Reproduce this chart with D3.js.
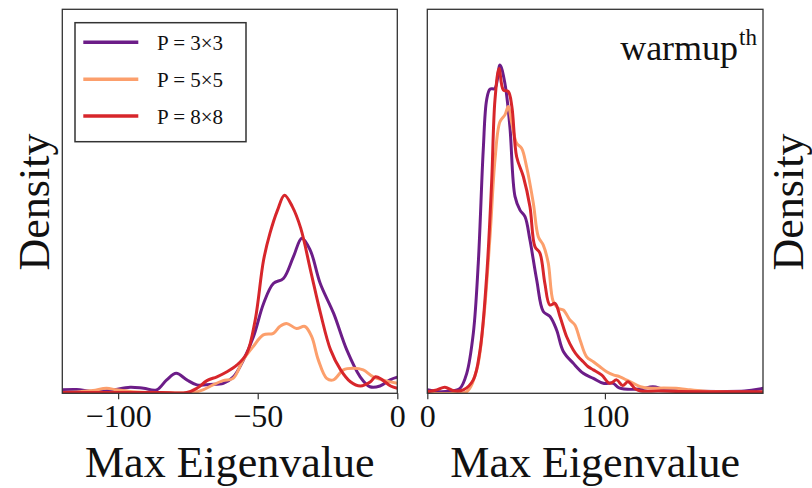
<!DOCTYPE html>
<html>
<head>
<meta charset="utf-8">
<script src="https://cdn.jsdelivr.net/npm/d3@7/dist/d3.min.js"></script>
<style>
  html, body { margin: 0; padding: 0; background: #fff; }
  svg { display: block; }
  text { font-family: "Liberation Serif", "DejaVu Serif", serif; fill: #111; }
</style>
</head>
<body>
<svg id="chart" width="812" height="488"></svg>
<script>
// Series names and colours
const seriesNames = ["P = 3×3", "P = 5×5", "P = 8×8"];
const seriesColors = ["#6c1d88", "#fc9f6c", "#d7262b"];

// Left panel: KDE of max eigenvalue (negative side), relative density
const leftX3 = [-120, -114.9, -108.9, -102.9, -95.7, -90.9, -86.2, -82.6, -79.2, -75.4, -71.8, -67.1, -62.3, -58.7, -55.1, -51.5, -47.9, -44.4, -40.8, -37.2, -34.2, -31.2, -27.6, -22.8, -18.1, -13.3, -9.8, -6.2, -2.6, 0];
const leftY3 = [0.009, 0.010, 0.004, 0.007, 0.016, 0.013, 0.009, 0.035, 0.052, 0.035, 0.022, 0.023, 0.026, 0.043, 0.087, 0.148, 0.234, 0.286, 0.299, 0.356, 0.404, 0.373, 0.286, 0.208, 0.113, 0.043, 0.017, 0.019, 0.035, 0.042];

const leftX5 = [-120, -113.8, -109.0, -104.2, -100.6, -94.6, -85.1, -73.1, -69.6, -66.0, -62.4, -58.8, -55.2, -51.6, -48.0, -44.4, -42.1, -39.7, -36.1, -33.1, -30.7, -28.3, -25.3, -22.9, -19.3, -15.8, -12.2, -8.6, 0];
const leftY5 = [0.002, 0.004, 0.007, 0.013, 0.009, 0.004, 0.002, 0.002, 0.009, 0.022, 0.033, 0.039, 0.087, 0.122, 0.152, 0.156, 0.174, 0.182, 0.169, 0.174, 0.148, 0.087, 0.039, 0.035, 0.061, 0.065, 0.061, 0.043, 0.026];

const leftX8 = [-120, -100, -85, -75.4, -71.8, -68.2, -64.6, -61.0, -57.4, -53.9, -50.9, -47.9, -45.6, -42.9, -40.4, -37.6, -34.6, -31.1, -27.5, -23.9, -20.3, -16.8, -13.2, -9.6, -7.8, -5.4, -2.4, 0];
const leftY8 = [0.002, 0.002, 0.002, 0.002, 0.013, 0.033, 0.043, 0.056, 0.074, 0.104, 0.191, 0.347, 0.417, 0.477, 0.516, 0.486, 0.430, 0.321, 0.208, 0.113, 0.061, 0.030, 0.019, 0.030, 0.043, 0.035, 0.019, 0.013];

// Right panel: KDE of max eigenvalue (positive side), relative density
const rightX3 = [0, 7.1, 12.8, 18.4, 22.2, 25.9, 28.7, 31.5, 33.4, 35.3, 38.1, 40.9, 43.7, 46.5, 49.4, 52.2, 55.0, 57.8, 61.6, 65.3, 69.1, 72.8, 76.6, 82.2, 87.8, 93.5, 99.1, 104.7, 108, 119.8, 127, 134, 148, 164.6, 178.7, 187, 189];
const rightY3 = [0.009, 0.004, 0.006, 0.013, 0.052, 0.156, 0.339, 0.634, 0.764, 0.792, 0.794, 0.855, 0.807, 0.694, 0.512, 0.477, 0.460, 0.399, 0.295, 0.213, 0.200, 0.165, 0.109, 0.078, 0.052, 0.039, 0.026, 0.026, 0.014, 0.011, 0.017, 0.010, 0.006, 0.005, 0.006, 0.011, 0.013];

const rightX5 = [0, 14.6, 22.2, 27.8, 31.5, 35.3, 38.1, 40.9, 43.7, 45.6, 47.6, 50.3, 53.1, 55.9, 59.7, 62.5, 65.3, 68.1, 70.9, 73.8, 76.6, 80.3, 83.1, 86.0, 89.7, 93.5, 97.2, 101.0, 104.7, 108.5, 112, 116, 120, 126, 133, 140, 146, 155, 165, 178, 189];
const rightY5 = [0.0, 0.0, 0.004, 0.061, 0.182, 0.408, 0.608, 0.707, 0.725, 0.747, 0.703, 0.651, 0.638, 0.590, 0.495, 0.408, 0.386, 0.339, 0.239, 0.221, 0.217, 0.191, 0.178, 0.139, 0.095, 0.082, 0.069, 0.056, 0.048, 0.043, 0.035, 0.026, 0.017, 0.013, 0.014, 0.013, 0.010, 0.006, 0.004, 0.003, 0.002];

const rightX8 = [0, 5.3, 9.9, 14.6, 20.3, 25.9, 29.7, 33.4, 36.2, 38.1, 40.4, 42.8, 45.6, 47.6, 50.3, 54.1, 57.8, 60.6, 63.4, 66.2, 69.0, 71.9, 74.7, 78.4, 82.2, 85.0, 87.8, 90.6, 93.5, 98.1, 102.8, 106.6, 110, 113, 117, 120, 130, 140, 160, 189];
const rightY8 = [0.004, 0.009, 0.016, 0.007, 0.009, 0.035, 0.113, 0.304, 0.547, 0.764, 0.846, 0.790, 0.786, 0.747, 0.616, 0.564, 0.486, 0.382, 0.365, 0.286, 0.230, 0.234, 0.200, 0.148, 0.113, 0.095, 0.082, 0.069, 0.061, 0.048, 0.026, 0.035, 0.020, 0.030, 0.012, 0.006, 0.006, 0.005, 0.004, 0.004];

// Axis ticks
const leftTicks = [-100, -50, 0];
const rightTicks = [0, 100];

const svg = d3.select("#chart");
const plotTop = 9.3, plotBottom = 393.3;

function zip(xs, ys) { return xs.map((x, i) => [x, ys[i]]); }

function panel(id, x0, x1, domain, ticks, series) {
  const x = d3.scaleLinear().domain(domain).range([x0, x1]);
  const y = d3.scaleLinear().domain([0, 1]).range([plotBottom, plotTop]);
  const g = svg.append("g");

  g.append("clipPath").attr("id", id)
    .append("rect").attr("x", x0).attr("y", plotTop).attr("width", x1 - x0).attr("height", plotBottom - plotTop);

  const line = d3.line()
    .x(d => x(d[0])).y(d => y(d[1]))
    .curve(d3.curveCatmullRom.alpha(0.5));

  const lines = g.append("g").attr("clip-path", `url(#${id})`);
  series.forEach((s, i) => {
    lines.append("path")
      .attr("d", line(s))
      .attr("fill", "none")
      .attr("stroke", seriesColors[i])
      .attr("stroke-width", 3)
      .attr("stroke-linejoin", "round")
      .attr("stroke-linecap", "round");
  });

  // frame
  g.append("rect")
    .attr("x", x0).attr("y", plotTop).attr("width", x1 - x0).attr("height", plotBottom - plotTop)
    .attr("fill", "none").attr("stroke", "#333").attr("stroke-width", 1.3);

  const axis = d3.axisBottom(x).tickValues(ticks).tickSize(6).tickPadding(5)
    .tickFormat(d => d < 0 ? "\u2212" + Math.abs(d) : String(d));
  const ag = g.append("g").attr("transform", `translate(0,${plotBottom})`).call(axis);
  ag.select(".domain").remove();
  ag.selectAll(".tick line").attr("stroke", "#333").attr("stroke-width", 1.2);
  ag.selectAll(".tick text")
    .attr("font-family", "Liberation Serif, serif")
    .attr("font-size", 32).attr("fill", "#111");

  g.append("text")
    .attr("x", (x0 + x1) / 2).attr("y", 477)
    .attr("text-anchor", "middle").attr("font-size", 44)
    .text("Max Eigenvalue");
  return { x, y, g };
}

panel("clipL", 62.3, 397.3, [-120, 0], leftTicks,
  [zip(leftX3, leftY3), zip(leftX5, leftY5), zip(leftX8, leftY8)]);
panel("clipR", 427.3, 763, [0, 189], rightTicks,
  [zip(rightX3, rightY3), zip(rightX5, rightY5), zip(rightX8, rightY8)]);

// y-axis labels
svg.append("text")
  .attr("transform", "translate(49,202) rotate(-90)")
  .attr("text-anchor", "middle").attr("font-size", 44)
  .text("Density");
svg.append("text")
  .attr("transform", "translate(803,202) rotate(-90)")
  .attr("text-anchor", "middle").attr("font-size", 44)
  .text("Density");

// annotation in right panel
const ann = svg.append("text")
  .attr("x", 757).attr("y", 60).attr("text-anchor", "end").attr("font-size", 36);
ann.append("tspan").text("warmup");
ann.append("tspan").attr("dx", 1).attr("dy", -15).attr("font-size", 23).text("th");

// legend
const lg = svg.append("g");
lg.append("rect").attr("x", 75).attr("y", 22.7).attr("width", 171).attr("height", 119)
  .attr("fill", "#fff").attr("stroke", "#333").attr("stroke-width", 1.5);
const rowY = [42.3, 79.3, 116];
seriesNames.forEach((name, i) => {
  lg.append("line").attr("x1", 83.3).attr("x2", 138.3).attr("y1", rowY[i]).attr("y2", rowY[i])
    .attr("stroke", seriesColors[i]).attr("stroke-width", 3.5);
  lg.append("text").attr("x", 157).attr("y", rowY[i] + 7.5).attr("font-size", 21)
    .text(name);
});
</script>
</body>
</html>
